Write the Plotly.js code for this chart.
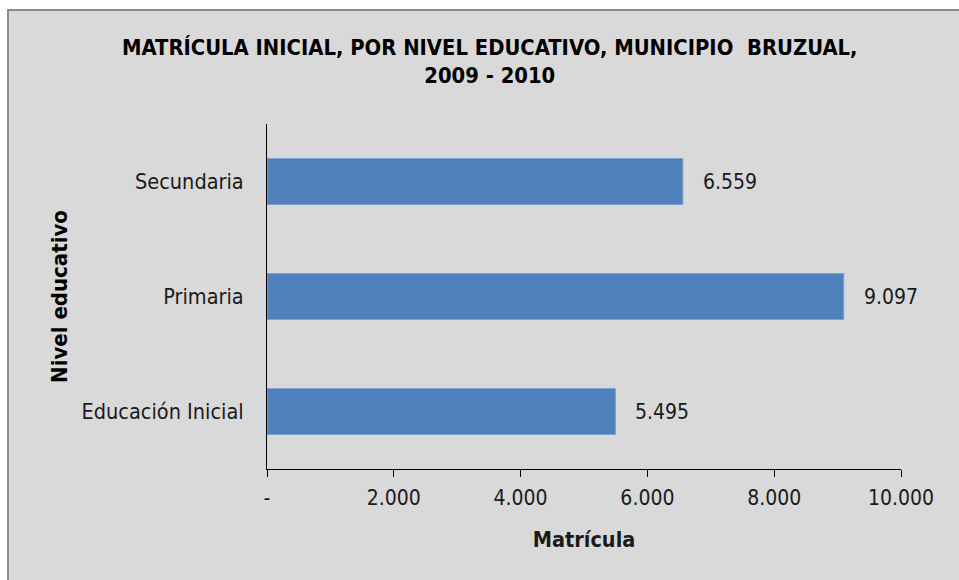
<!DOCTYPE html>
<html>
<head>
<meta charset="utf-8">
<script src="https://cdn.plot.ly/plotly-3.0.1.min.js"></script>
<style>
html,body{margin:0;padding:0;background:#ffffff;width:959px;height:580px;overflow:hidden;}
#wrap{position:absolute;left:7px;top:9px;width:952px;height:571px;border-left:2px solid #8c8c8c;border-top:2px solid #8c8c8c;background:#d9d9d9;}
#chart{width:952px;height:571px;}
</style>
</head>
<body>
<div id="wrap"><div id="chart"></div></div>
<script>
const categories = ["Educación Inicial", "Primaria", "Secundaria"];
const values = [5495, 9097, 6559];
const valueLabels = ["5.495", "9.097", "6.559"];
const tickValues = [0, 2000, 4000, 6000, 8000, 10000];
const tickLabels = ["-", "2.000", "4.000", "6.000", "8.000", "10.000"];

const FONT = '"Liberation Sans Narrow", "DejaVu Sans Condensed", "Arial Narrow", sans-serif';

const trace = {
  type: 'bar',
  orientation: 'h',
  y: categories,
  x: values,
  marker: {color: '#4f81bd', line: {color: '#7da2d1', width: 1}},
  hoverinfo: 'none'
};

const labelAnnotations = categories.map((c, i) => ({
  x: values[i],
  y: c,
  xref: 'x',
  yref: 'y',
  text: valueLabels[i],
  showarrow: false,
  xanchor: 'left',
  yanchor: 'middle',
  xshift: 18,
  font: {family: FONT, size: 21, color: '#1a1a1a'}
}));

const layout = {
  width: 952,
  height: 571,
  paper_bgcolor: '#d9d9d9',
  plot_bgcolor: '#d9d9d9',
  margin: {l: 258, r: 60, t: 113, b: 113},
  bargap: 0.6,
  showlegend: false,
  font: {family: FONT, color: '#1a1a1a'},
  title: {
    text: '<b>MATRÍCULA INICIAL, POR NIVEL EDUCATIVO, MUNICIPIO  BRUZUAL,<br>2009 - 2010</b>',
    font: {family: FONT, size: 21.8, color: '#000'},
    x: 0.505, xanchor: 'center',
    y: 0.923, yanchor: 'top'
  },
  annotations: labelAnnotations,
  xaxis: {
    range: [0, 10000],
    tickvals: tickValues,
    ticktext: tickLabels,
    ticks: 'outside',
    ticklen: 7,
    tickwidth: 1,
    tickcolor: '#000',
    ticklabelstandoff: 3,
    showline: true,
    linecolor: '#000',
    linewidth: 1,
    showgrid: false,
    zeroline: false,
    tickfont: {family: FONT, size: 21, color: '#1a1a1a'},
    title: {text: '<b>Matrícula</b>', font: {family: FONT, size: 21.5, color: '#1a1a1a'}, standoff: 22}
  },
  yaxis: {
    showline: true,
    linecolor: '#000',
    linewidth: 1,
    ticks: '',
    showgrid: false,
    zeroline: false,
    ticklabelstandoff: 18,
    tickfont: {family: FONT, size: 21.5, color: '#1a1a1a'},
    title: {text: '<b>Nivel educativo</b>', font: {family: FONT, size: 22, color: '#000'}, standoff: 7}
  }
};

Plotly.newPlot('chart', [trace], layout, {displayModeBar: false, staticPlot: true});
</script>
</body>
</html>
